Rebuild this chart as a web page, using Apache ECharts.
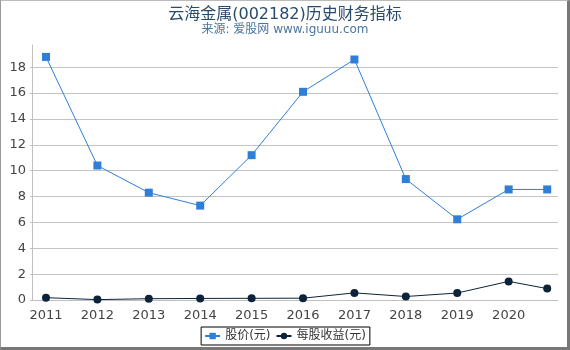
<!DOCTYPE html>
<html>
<head>
<meta charset="utf-8">
<script src="https://cdn.jsdelivr.net/npm/echarts@6/dist/echarts.min.js"></script>
<style>
html,body{margin:0;padding:0;background:#fff;}
#wrap{position:relative;width:570px;height:350px;}
#chart{position:absolute;left:0;top:0;width:570px;height:350px;}
#frame{position:absolute;left:0;top:0;width:570px;height:350px;box-sizing:border-box;pointer-events:none;
border-left:1px solid #999;border-top:1px solid #bbb;border-right:3px solid #777;border-bottom:3px solid #777;}
</style>
</head>
<body>
<div id="wrap"><div id="chart"></div><div id="frame"></div></div>
<script>
const titleText = '云海金属(002182)历史财务指标';
const subtitleText = '来源: 爱股网 www.iguuu.com';
const seriesNames = ['股价(元)', '每股收益(元)'];
const years = [2011, 2012, 2013, 2014, 2015, 2016, 2017, 2018, 2019, 2020, 2020.75];
const price = [18.8, 10.4, 8.3, 7.3, 11.2, 16.1, 18.6, 9.35, 6.24, 8.55, 8.55];
const eps = [0.18, 0.03, 0.1, 0.12, 0.13, 0.14, 0.55, 0.27, 0.54, 1.44, 0.88];

const font = "'DejaVu Sans', 'Noto Sans CJK SC', sans-serif";
const chart = echarts.init(document.getElementById('chart'), null, {renderer: 'canvas'});
const isInt = v => Math.abs(v - Math.round(v)) < 1e-6;
chart.setOption({
  animation: false,
  title: {
    text: titleText, subtext: subtitleText, left: 'center', top: 2, itemGap: 1,
    textStyle: {fontSize: 16, fontWeight: 'normal', color: '#274b6d', fontFamily: font},
    subtextStyle: {fontSize: 12, color: '#4d759e', fontFamily: font}
  },
  grid: {left: 32, right: 12, top: 45, bottom: 50, containLabel: false},
  legend: {
    data: seriesNames, left: 'center', top: 327,
    borderColor: '#000', borderWidth: 1, padding: [3, 4, 3, 3], itemGap: 5,
    itemWidth: 15, itemHeight: 8,
    textStyle: {fontSize: 12, color: '#333', fontFamily: font}
  },
  xAxis: {
    type: 'value', min: 2010.728, max: 2020.96, minInterval: 1, maxInterval: 1,
    offset: 4,
    axisLine: {show: true, lineStyle: {color: '#c0c0c0', width: 1}},
    axisTick: {show: false},
    splitLine: {show: false},
    axisLabel: {
      margin: 5, fontSize: 13, color: '#444', fontFamily: font,
      showMinLabel: true, showMaxLabel: true,
      formatter: v => isInt(v) ? String(Math.round(v)) : ''
    }
  },
  yAxis: {
    type: 'value', min: 0, max: 19.72, interval: 2,
    axisLine: {show: true, lineStyle: {color: '#c0c0c0', width: 1}},
    axisTick: {show: true, length: 2, lineStyle: {color: '#c0c0c0'}},
    splitLine: {show: true, showMinLine: false, showMaxLine: false, lineStyle: {color: '#c4c4c4', width: 1}},
    axisLabel: {
      margin: 6, fontSize: 13, color: '#444', fontFamily: font, showMaxLabel: false,
      formatter: v => isInt(v) && Math.round(v) % 2 === 0 ? String(Math.round(v)) : ''
    }
  },
  series: [
    {
      name: seriesNames[0], type: 'line', data: years.map((x, i) => [x, price[i]]),
      symbol: 'rect', symbolSize: 8, showAllSymbol: true, clip: false,
      itemStyle: {color: '#2f7ed8'}, lineStyle: {color: '#2f7ed8', width: 1}
    },
    {
      name: seriesNames[1], type: 'line', data: years.map((x, i) => [x, eps[i]]),
      symbol: 'circle', symbolSize: 8, showAllSymbol: true, clip: false,
      itemStyle: {color: '#0d233a'}, lineStyle: {color: '#0d233a', width: 1}
    }
  ]
});
</script>
</body>
</html>
